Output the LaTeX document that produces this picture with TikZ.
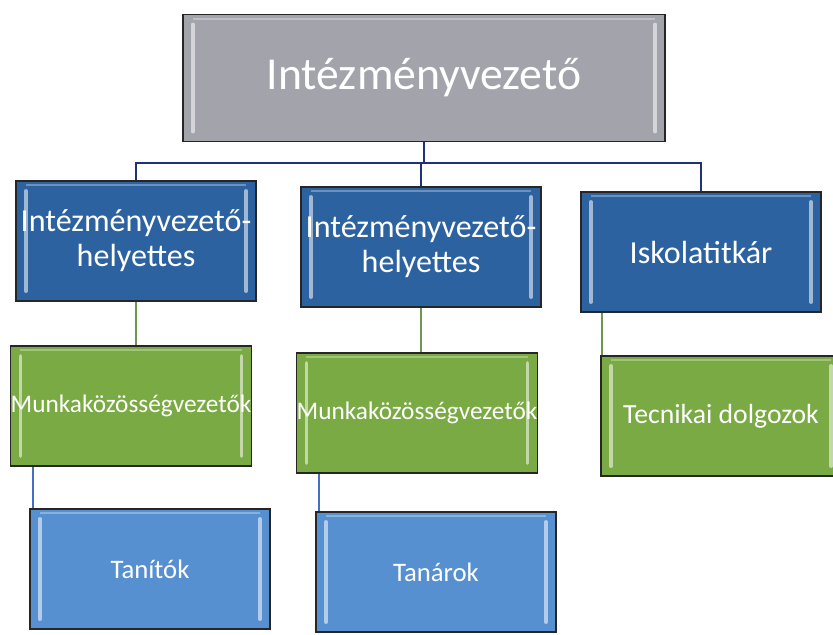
\documentclass[tikz,border=0pt]{standalone}
\usepackage{fontspec}
\setmainfont{Carlito}
\definecolor{topgray}{RGB}{163,163,171}
\definecolor{darkblue}{RGB}{45,98,160}
\definecolor{leafgreen}{RGB}{122,170,68}
\definecolor{lightblue}{RGB}{86,144,208}
\definecolor{navyline}{RGB}{30,50,120}
\definecolor{greenline}{RGB}{110,150,80}
\definecolor{blueline}{RGB}{70,110,200}
\tikzset{
	bevel/.style={path picture={
		\draw[white, opacity=0.55, line width=2.5pt, line cap=round]
			([xshift=7pt,yshift=-7pt]path picture bounding box.north west) -- ([xshift=7pt,yshift=7pt]path picture bounding box.south west);
		\draw[white, opacity=0.55, line width=2.5pt, line cap=round]
			([xshift=-7pt,yshift=-7pt]path picture bounding box.north east) -- ([xshift=-7pt,yshift=7pt]path picture bounding box.south east);
		\draw[white, opacity=0.3, line width=1.5pt]
			([xshift=7pt,yshift=-3pt]path picture bounding box.north west) -- ([xshift=-7pt,yshift=-3pt]path picture bounding box.north east);
	}},
	orgbox/.style={draw=black!85, line width=1.2pt, text=white, align=center, inner sep=0pt,
		minimum width=6cm, minimum height=3cm, bevel},
	headbox/.style={orgbox, fill=topgray, minimum width=12.05cm, minimum height=3.175cm,
		font=\fontsize{32.5}{36}\selectfont},
	deputybox/.style={orgbox, fill=darkblue, font=\fontsize{22.8}{25}\selectfont},
	groupbox/.style={orgbox, fill=leafgreen, font=\fontsize{18}{20}\selectfont},
	staffbox/.style={orgbox, fill=lightblue, font=\fontsize{19}{21}\selectfont},
	navy/.style={navyline, line width=1.2pt},
	greenlink/.style={greenline, line width=1.2pt},
	bluelink/.style={blueline, line width=1.2pt}
}
\begin{document}
\begin{tikzpicture}[x=0.025cm, y=-0.025cm]
		\useasboundingbox (0,0) rectangle (833,634);
		\node[headbox] (head) at (424,78) {Intézményvezető};
		\node[deputybox] (dep1) at (136,241) {Intézményvezető-\\helyettes};
		\node[deputybox] (dep2) at (421,247) {Intézményvezető-\\helyettes};
		\node[deputybox] (secr) at (701,252) {Iskolatitkár};
		\node[groupbox] (grp1) at (131,406) {Munkaközösségvezetők};
		\node[groupbox] (grp2) at (417,413) {Munkaközösségvezetők};
		\node[groupbox, font=\fontsize{19.7}{22}\selectfont] (tech) at (721,416) {Tecnikai dolgozok};
		\node[staffbox] (tan1) at (150,569) {Tanítók};
		\node[staffbox] (tan2) at (436,572) {Tanárok};
		\coordinate (bar) at (0,163);
		\draw[navy] (head.south) -- (head.south |- bar);
		\draw[navy] (dep1.north) |- (secr.north |- bar) -- (secr.north);
		\draw[navy] (dep2.north) -- (dep2.north |- bar);
		\draw[greenlink] (dep1.south) -- (dep1.south |- grp1.north);
		\draw[greenlink] (dep2.south) -- (dep2.south |- grp2.north);
		\draw[greenlink] ([xshift=0.55cm]secr.south west) -- ([xshift=0.55cm]secr.south west |- tech.north);
		\draw[bluelink] ([xshift=0.575cm]grp1.south west) -- ([xshift=0.575cm]grp1.south west |- tan1.north);
		\draw[bluelink] ([xshift=0.575cm]grp2.south west) -- ([xshift=0.575cm]grp2.south west |- tan2.north);
	\end{tikzpicture}
\end{document}
